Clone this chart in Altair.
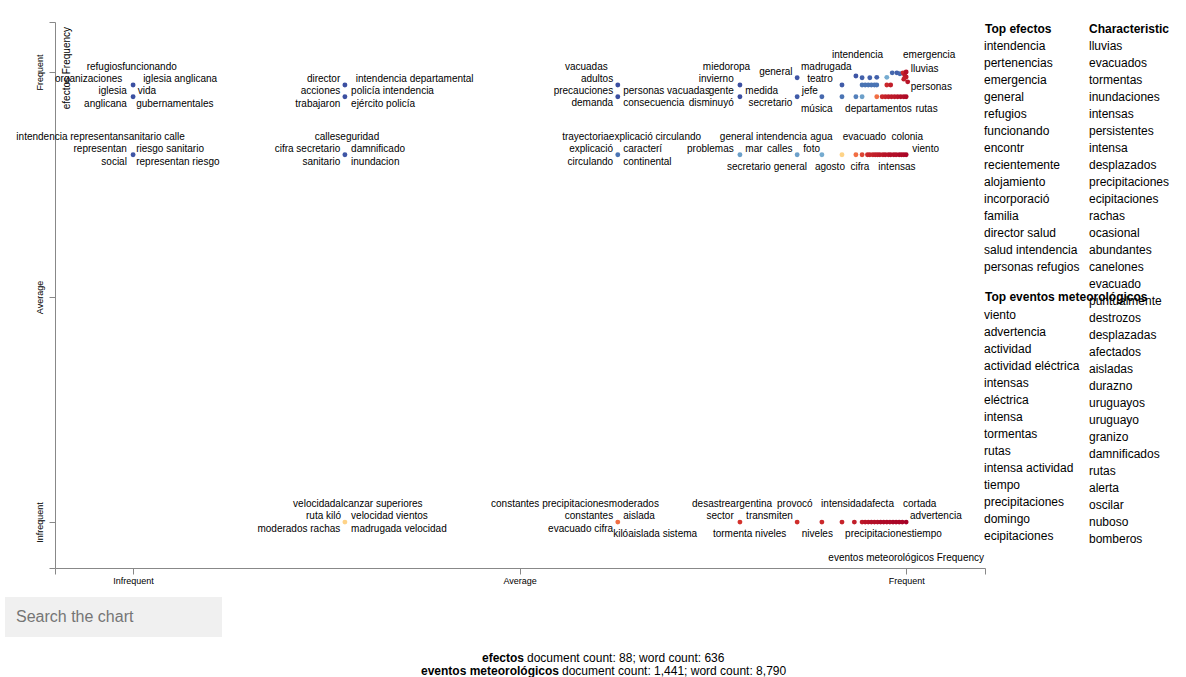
import altair as alt
import pandas as pd

FONT = "Liberation Sans, Arial, sans-serif"

# ---------------- point data (x = eventos meteorológicos frequency rank, y = efectos frequency rank)
# score: 1 = characteristic of efectos (blue), 0 = of eventos meteorológicos (red)
top_x = [0.859, 0.935, 0.943, 0.953, 0.962, 0.975, 0.982, 0.988, 0.992, 0.996, 0.998, 1.000, 1.000, 0.997, 1.002]
top_y = [0.987, 0.991, 0.987, 0.987, 0.988, 0.988, 0.998, 0.998, 0.996, 0.998, 0.993, 1.000, 0.989, 0.984, 0.978]
top_s = [0.95, 0.95, 0.93, 0.93, 0.93, 0.80, 0.92, 0.93, 0.92, 0.08, 0.05, 0.03, 0.05, 0.06, 0.04]

row1_y = 0.971
row1_x = [0.0, 0.274, 0.627, 0.785, 0.917, 0.943, 0.947, 0.951, 0.955, 0.959, 0.962, 0.975, 0.980]
row1_s = [0.96, 0.96, 0.96, 0.96, 0.94, 0.90, 0.90, 0.90, 0.90, 0.90, 0.90, 0.08, 0.06]

row2_y = 0.945
row2_x = [0.0, 0.274, 0.627, 0.785, 0.859, 0.891, 0.917, 0.935, 0.943, 0.962, 0.969, 0.973,
          0.977, 0.981, 0.985, 0.989, 0.993, 0.997, 1.000]
row2_s = [0.96, 0.96, 0.96, 0.96, 0.94, 0.92, 0.90, 0.88, 0.82, 0.20, 0.08, 0.07,
          0.06, 0.05, 0.05, 0.04, 0.03, 0.03, 0.02]

row3_y = 0.816
row3_x = [0.0, 0.274, 0.627, 0.785, 0.859, 0.891, 0.917, 0.935, 0.943, 0.950, 0.953, 0.957,
          0.960, 0.963, 0.966, 0.970, 0.973, 0.977, 0.980, 0.984, 0.987, 0.991, 0.994, 0.997, 1.000]
row3_s = [0.95, 0.95, 0.90, 0.82, 0.82, 0.80, 0.38, 0.20, 0.13, 0.08, 0.07, 0.07,
          0.06, 0.06, 0.05, 0.05, 0.04, 0.04, 0.03, 0.03, 0.03, 0.02, 0.02, 0.02, 0.01]

row4_y = 0.0
row4_x = [0.274, 0.627, 0.785, 0.859, 0.891, 0.917, 0.933, 0.943, 0.947, 0.951, 0.955, 0.959,
          0.963, 0.967, 0.971, 0.975, 0.979, 0.983, 0.987, 0.991, 0.995, 1.000]
row4_s = [0.38, 0.20, 0.10, 0.09, 0.08, 0.07, 0.06, 0.05, 0.04, 0.04, 0.03, 0.03,
          0.03, 0.02, 0.02, 0.02, 0.02, 0.01, 0.01, 0.01, 0.01, 0.0]

# ---------------- term labels (anchored in data units)
lab_left_t = ["refugiosfuncionando", "iglesia anglicana", "vida", "gubernamentales",
              "intendencia departamental", "policía intendencia", "ejército policía",
              "intendencia representansanitario calle", "riesgo sanitario", "representan riesgo",
              "calleseguridad", "damnificado", "inundacion",
              "personas vacuadas", "consecuencia", "miedoropa", "medida", "secretario",
              "madrugada", "teatro", "jefe", "música", "intendencia", "emergencia", "lluvias",
              "personas", "departamentos", "rutas",
              "trayectoriaexplicació circulando", "caracterí", "continental", "general intendencia",
              "agua", "mar", "calles", "foto", "agosto", "cifra", "intensas", "evacuado", "colonia", "viento",
              "velocidadalcanzar superiores", "velocidad vientos", "madrugada velocidad",
              "constantes precipitacionesmoderados", "aislada", "kilóaislada sistema",
              "desastreargentina", "provocó", "intensidadafecta", "cortada", "transmiten",
              "advertencia", "tormenta niveles", "niveles", "precipitacionestiempo"]
lab_left_x = [-0.060, 0.013, 0.006, 0.004,
              0.288, 0.282, 0.282,
              -0.151, 0.004, 0.004,
              0.235, 0.282, 0.282,
              0.634, 0.634, 0.737, 0.792, 0.796,
              0.864, 0.872, 0.865, 0.864, 0.904, 0.996, 1.006,
              1.006, 0.921, 1.012,
              0.555, 0.634, 0.634, 0.759,
              0.876, 0.792, 0.820, 0.867, 0.882, 0.928, 0.964, 0.918, 0.981, 1.008,
              0.207, 0.282, 0.282,
              0.463, 0.634, 0.621,
              0.723, 0.833, 0.890, 0.996, 0.793,
              1.005, 0.750, 0.865, 0.921]
lab_left_y = [1.011, 0.984, 0.958, 0.929,
              0.984, 0.958, 0.929,
              0.856, 0.829, 0.800,
              0.856, 0.829, 0.800,
              0.958, 0.931, 1.011, 0.958, 0.931,
              1.011, 0.984, 0.958, 0.918, 1.038, 1.038, 1.007,
              0.967, 0.918, 0.918,
              0.856, 0.829, 0.800, 0.856,
              0.856, 0.829, 0.829, 0.829, 0.789, 0.789, 0.789, 0.856, 0.856, 0.829,
              0.040, 0.013, -0.016,
              0.040, 0.013, -0.027,
              0.040, 0.040, 0.040, 0.040, 0.013,
              0.013, -0.027, -0.027, -0.027]

lab_right_t = ["organizaciones", "iglesia", "anglicana", "director", "acciones", "trabajaron",
               "representan", "social", "cifra secretario", "sanitario",
               "vacuadas", "adultos", "precauciones", "demanda", "invierno", "gente", "disminuyó",
               "general", "explicació", "circulando", "problemas",
               "ruta kiló", "moderados rachas", "constantes", "evacuado cifra", "sector"]
lab_right_x = [-0.014, -0.008, -0.008, 0.268, 0.268, 0.268,
               -0.008, -0.008, 0.268, 0.268,
               0.614, 0.621, 0.621, 0.621, 0.777, 0.777, 0.777,
               0.853, 0.621, 0.621, 0.777,
               0.269, 0.268, 0.621, 0.621, 0.777]
lab_right_y = [0.984, 0.958, 0.929, 0.984, 0.958, 0.929,
               0.829, 0.800, 0.829, 0.800,
               1.011, 0.984, 0.958, 0.931, 0.984, 0.958, 0.931,
               1.000, 0.829, 0.800, 0.829,
               0.013, -0.016, 0.013, -0.016, 0.013]

lab_center_t = ["secretario general"]
lab_center_x = [0.820]
lab_center_y = [0.789]

# ---------------- side lists and footer
top_efectos = ["intendencia", "pertenencias", "emergencia", "general", "refugios", "funcionando",
               "encontr", "recientemente", "alojamiento", "incorporació", "familia",
               "director salud", "salud intendencia", "personas refugios"]
top_eventos = ["viento", "advertencia", "actividad", "actividad eléctrica", "intensas", "eléctrica",
               "intensa", "tormentas", "rutas", "intensa actividad", "tiempo", "precipitaciones",
               "domingo", "ecipitaciones"]
characteristic = ["lluvias", "evacuados", "tormentas", "inundaciones", "intensas", "persistentes",
                  "intensa", "desplazados", "precipitaciones", "ecipitaciones", "rachas", "ocasional",
                  "abundantes", "canelones", "evacuado", "puntualmente", "destrozos", "desplazadas",
                  "afectados", "aisladas", "durazno", "uruguayos", "uruguayo", "granizo",
                  "damnificados", "rutas", "alerta", "oscilar", "nuboso", "bomberos"]
footer_bold = ["efectos", "eventos meteorológicos"]
footer_rest = ["document count: 88; word count: 636", "document count: 1,441; word count: 8,790"]

# ---------------- build tables
xs, ys, ss = list(top_x), list(top_y), list(top_s)
for ry, rx, rs in [(row1_y, row1_x, row1_s), (row2_y, row2_x, row2_s),
                   (row3_y, row3_x, row3_s), (row4_y, row4_x, row4_s)]:
    xs += rx
    ys += [ry] * len(rx)
    ss += rs
pts = pd.DataFrame({"x": xs, "y": ys, "score": ss})

labL = pd.DataFrame({"term": lab_left_t, "x": lab_left_x, "y": lab_left_y})
labR = pd.DataFrame({"term": lab_right_t, "x": lab_right_x, "y": lab_right_y})
labC = pd.DataFrame({"term": lab_center_t, "x": lab_center_x, "y": lab_center_y})

W, H = 930, 546
xscale = alt.Scale(domain=[-0.101, 1.102], nice=False, zero=False)
yscale = alt.Scale(domain=[-0.102, 1.111], nice=False, zero=False)
lab_expr = "datum.value == 0 ? 'Infrequent' : datum.value == 0.5 ? 'Average' : datum.value == 1 ? 'Frequent' : ''"

xaxis = alt.Axis(values=[-0.101, 0, 0.5, 1, 1.102], labelExpr=lab_expr, title=None, grid=False,
                 domainColor="#888", tickColor="#888", tickSize=6, labelFontSize=9,
                 labelColor="#000", labelFont=FONT, labelPadding=2)
yaxis = alt.Axis(values=[-0.102, 0, 0.5, 1, 1.111], labelExpr=lab_expr, title=None, grid=False,
                 domainColor="#888", tickColor="#888", tickSize=6, labelFontSize=9,
                 labelColor="#000", labelFont=FONT, labelAngle=270, labelAlign="center",
                 labelBaseline="bottom", labelPadding=5)

points = alt.Chart(pts).mark_circle(size=24, opacity=1).encode(
    x=alt.X("x:Q", scale=xscale, axis=xaxis),
    y=alt.Y("y:Q", scale=yscale, axis=yaxis),
    color=alt.Color("score:Q", scale=alt.Scale(scheme="redyellowblue", domain=[0, 1]), legend=None),
)

def labels(df, align):
    return alt.Chart(df).mark_text(align=align, baseline="middle", fontSize=10, font=FONT,
                                   color="#000").encode(
        x=alt.X("x:Q", scale=xscale), y=alt.Y("y:Q", scale=yscale), text="term:N")

one = alt.Data(values=[{}])

def ann(text, x, y, **kw):
    props = dict(font=FONT, color="#000")
    props.update(kw)
    return alt.Chart(one).mark_text(text=text, **props).encode(x=alt.value(x), y=alt.value(y))

layers = [points, labels(labL, "left"), labels(labR, "right"), labels(labC, "center")]

# axis titles
layers.append(ann("efectos Frequency", 12, 5, angle=270, align="right", baseline="middle", fontSize=10))
layers.append(ann("eventos meteorológicos Frequency", 929, 536, align="right", baseline="middle", fontSize=10))

# side lists
layers.append(ann("Top efectos", 930, 7, align="left", baseline="middle", fontSize=12, fontWeight="bold"))
layers.append(ann(top_efectos, 929, 19, align="left", baseline="top", fontSize=12, lineHeight=17))
layers.append(ann("Top eventos meteorológicos", 930, 275, align="left", baseline="middle", fontSize=12, fontWeight="bold"))
layers.append(ann(top_eventos, 929, 288, align="left", baseline="top", fontSize=12, lineHeight=17))
layers.append(ann("Characteristic", 1034, 7, align="left", baseline="middle", fontSize=12, fontWeight="bold"))
layers.append(ann(characteristic, 1034, 19, align="left", baseline="top", fontSize=12, lineHeight=17))

# search box
layers.append(alt.Chart(one).mark_rect(color="#f0f0f0").encode(
    x=alt.value(-50), x2=alt.value(167), y=alt.value(575), y2=alt.value(615)))
layers.append(ann("Search the chart", -39, 595, align="left", baseline="middle", fontSize=16, color="#757575"))

# footer
layers.append(ann(footer_bold[0], 469, 636, align="right", baseline="middle", fontSize=12, fontWeight="bold"))
layers.append(ann(footer_rest[0], 472, 636, align="left", baseline="middle", fontSize=12))
layers.append(ann(footer_bold[1], 504, 649, align="right", baseline="middle", fontSize=12, fontWeight="bold"))
layers.append(ann(footer_rest[1], 507, 649, align="left", baseline="middle", fontSize=12))

chart = alt.layer(*layers).properties(
    width=W, height=H,
    autosize=alt.AutoSizeParams(type="none"),
    padding={"left": 55, "top": 22, "right": 201, "bottom": 109},
).configure_view(stroke=None)

chart.save("out.html", embed_options={"renderer": "svg", "actions": False})
